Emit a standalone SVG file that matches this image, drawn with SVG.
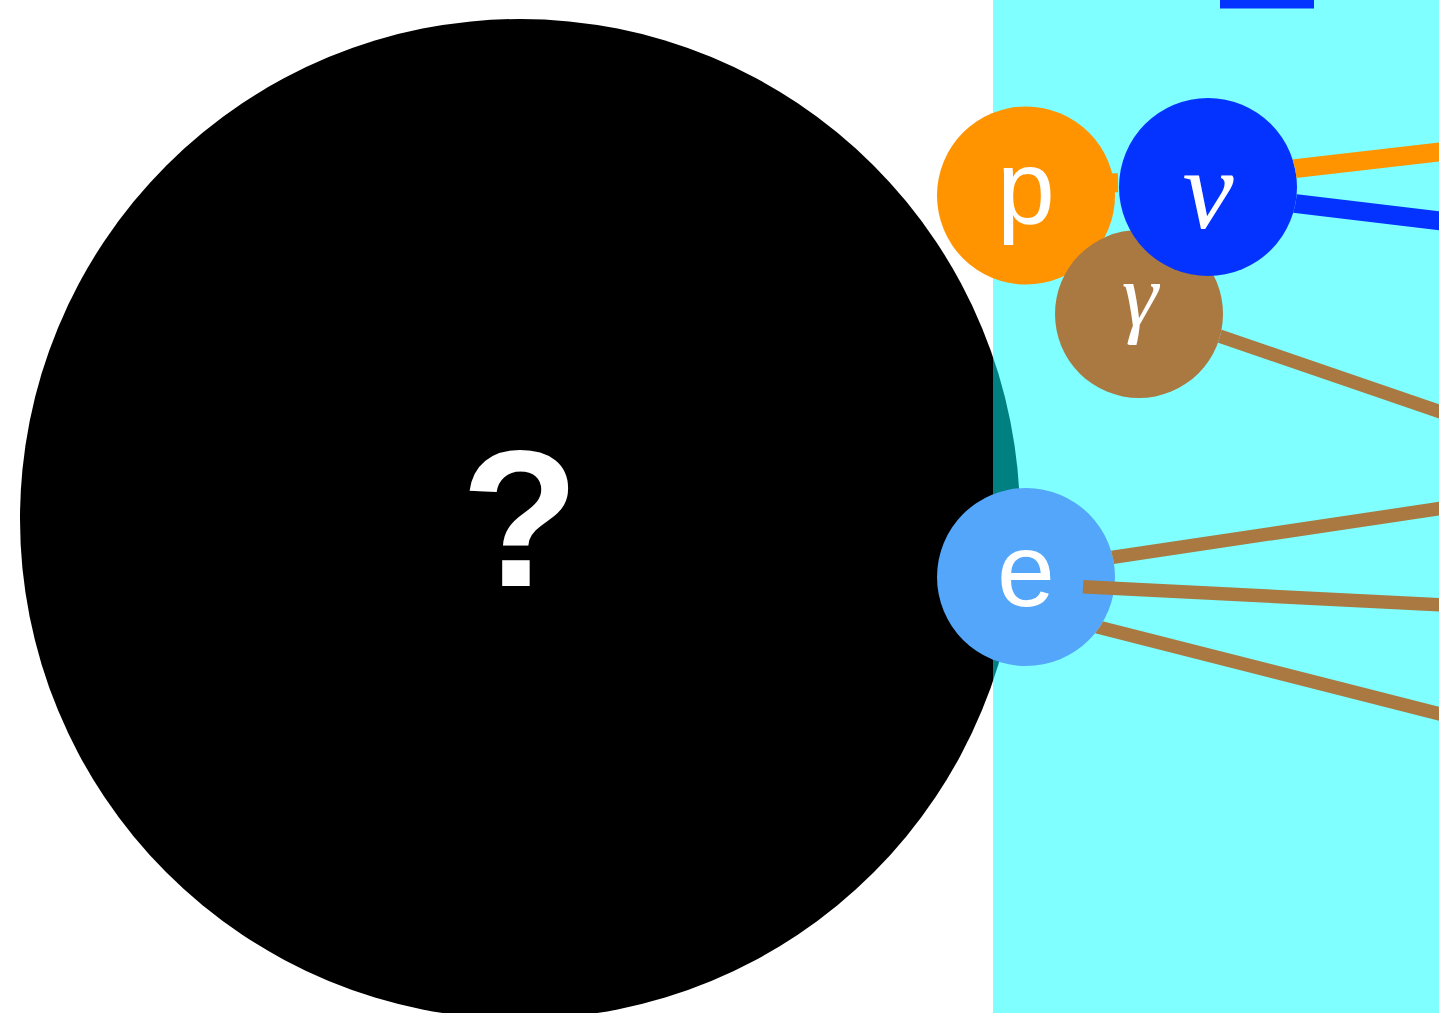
<svg xmlns="http://www.w3.org/2000/svg" width="1439" height="1013" viewBox="0 0 1439 1013">
  <style>
    .lbl { fill: #ffffff; font-family: "Liberation Sans", Arial, sans-serif; text-anchor: middle; }
    .greek { fill: #ffffff; font-family: "Liberation Serif", "Times New Roman", serif; font-style: italic; text-anchor: middle; }
    .edge { fill: none; stroke-linecap: butt; }
    .brown { stroke: #aa7942; stroke-width: 13.5; }
    .thick { stroke-width: 19; }
  </style>
  <defs>
    <mask id="m-nu" maskUnits="userSpaceOnUse" x="0" y="0" width="1439" height="1013">
      <rect x="0" y="0" width="1439" height="1013" fill="#fff"/>
      <circle cx="1208" cy="187" r="89" fill="#000"/>
    </mask>
    <mask id="m-gamma" maskUnits="userSpaceOnUse" x="0" y="0" width="1439" height="1013">
      <rect x="0" y="0" width="1439" height="1013" fill="#fff"/>
      <circle cx="1139" cy="314" r="84" fill="#000"/>
    </mask>
    <mask id="m-e" maskUnits="userSpaceOnUse" x="0" y="0" width="1439" height="1013">
      <rect x="0" y="0" width="1439" height="1013" fill="#fff"/>
      <circle cx="1026" cy="577" r="89" fill="#000"/>
    </mask>
  </defs>
  <rect x="0" y="0" width="1439" height="1013" fill="#ffffff"/>
  <g id="unknown">
    <circle cx="520" cy="519" r="500" fill="#000000"/>
    <text class="lbl" x="520" y="586" font-size="194" font-weight="bold">?</text>
  </g>
  <g id="region">
    <rect x="993" y="0" width="446" height="1013" fill="#00ffff" fill-opacity="0.5"/>
    <rect x="1220" y="0" width="94" height="8.5" fill="#0433ff"/>
  </g>
  <g id="nodes">
    <g id="node-p">
      <circle cx="1026" cy="195.5" r="89" fill="#ff9300"/>
      <text class="lbl" x="1026" y="223" font-size="104">p</text>
    </g>
    <g id="node-gamma">
      <circle cx="1139" cy="314" r="84" fill="#aa7942"/>
      <text class="greek" x="1140" y="326" font-size="92">γ</text>
    </g>
    <g id="node-nu">
      <circle cx="1208" cy="187" r="89" fill="#0433ff"/>
      <text class="greek" x="1208" y="228" font-size="115">ν</text>
    </g>
    <g id="node-e">
      <circle cx="1026" cy="577" r="89" fill="#53a6fa"/>
      <text class="lbl" x="1026" y="606" font-size="104">e</text>
    </g>
  </g>
  <g id="connectors">
    <path class="edge thick" stroke="#ff9300" d="M1104,183 L1118,182.8"/>
    <path class="edge thick" stroke="#ff9300" mask="url(#m-nu)" d="M1208,178.6 L1460,149.6"/>
    <path class="edge thick" stroke="#0433ff" mask="url(#m-nu)" d="M1208,193.1 L1460,223.3"/>
    <path class="edge brown" mask="url(#m-gamma)" d="M1139,308.3 L1460,418.7"/>
    <path class="edge brown" mask="url(#m-e)" d="M1026,570.2 L1460,505.5"/>
    <path class="edge brown" d="M1083,586.8 L1460,605.8"/>
    <path class="edge brown" mask="url(#m-e)" d="M1026,608.8 L1460,719"/>
  </g>
</svg>
